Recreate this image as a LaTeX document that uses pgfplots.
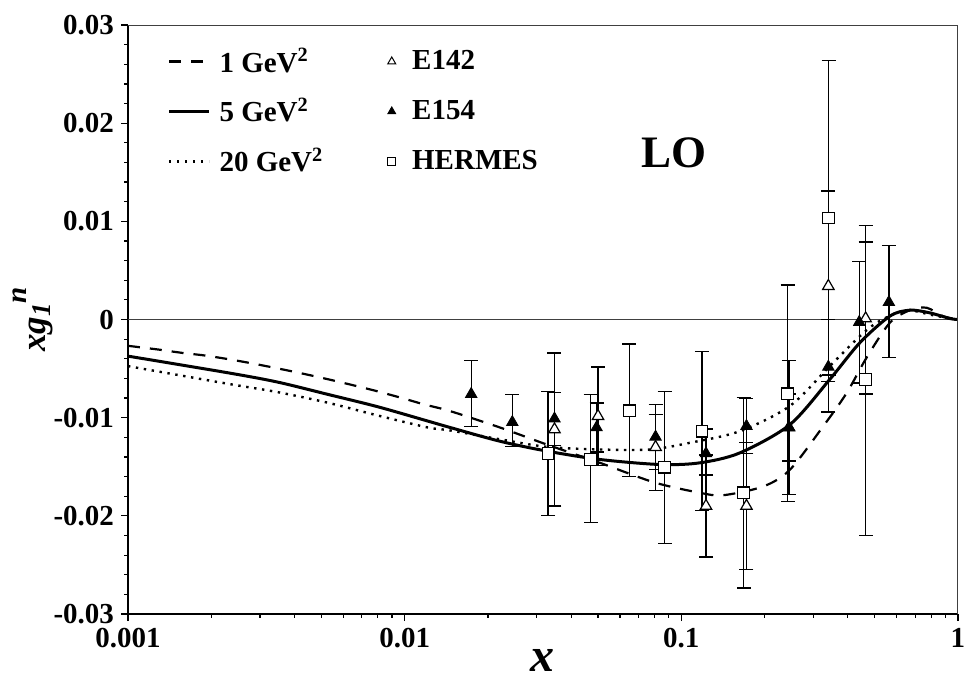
\documentclass[border=0pt]{standalone}
\usepackage{fontspec}
\setmainfont{Liberation Serif}
\usepackage{pgfplots}
\pgfplotsset{compat=1.18}
\usepackage{pgfplotstable}
\pgfplotsset{
  mylegline/.style={legend image code/.code={\draw[##1] (0pt,0pt) -- (20pt,0pt); \path (22.5pt,0pt);}},
  mylegmark/.style={legend image code/.code={\draw[##1] plot coordinates {(8.5pt,0pt)}; \path (0pt,0pt) (16.5pt,0pt);}},
}

\pgfplotstableread{
x y ep em
0.0348 -0.0112 0.0078 0.0078
0.0500 -0.00985 0.0050 0.0050
0.0807 -0.0130 0.0033 0.0044
0.1228 -0.0190 0.0052 0.0052
0.1720 -0.0190 0.0065 0.0065
0.2450 -0.0110 0.0068 0.0068
0.3400 0.0034 0.0097 0.0097
0.4637 0.0001 0.0095 0.0077
}\Ea

\pgfplotstableread{
x y ep em
0.0174 -0.0076 0.0034 0.0033
0.0245 -0.01046 0.0028 0.0025
0.0348 -0.0101 0.0027 0.0027
0.0494 -0.0110 0.0025 0.0025
0.0807 -0.01195 0.0033 0.0033
0.1228 -0.01365 0.0025 0.0022
0.1720 -0.01086 0.0028 0.0028
0.2450 -0.0110 0.0034 0.0034
0.3400 -0.00482 0.0048 0.0046
0.4395 -0.00027 0.0062 0.0062
0.5627 0.00176 0.0058 0.0056
}\Eb

\pgfplotstableread{
x y ep em
0.0330 -0.01365 0.0063 0.0063
0.0470 -0.01426 0.0066 0.0064
0.0649 -0.0093 0.0068 0.0067
0.0870 -0.01504 0.0077 0.0078
0.1187 -0.01137 0.0081 0.0081
0.1680 -0.01765 0.0097 0.0097
0.2420 -0.00757 0.0111 0.0110
0.3405 0.01035 0.0160 0.0160
0.4637 -0.0061 0.0140 0.0159
}\Hm

\begin{document}
\begin{tikzpicture}
\useasboundingbox (-64pt,-42pt) rectangle (420pt,307pt);
\begin{axis}[
  at={(0,0)}, anchor=south west,
  scale only axis, width=415pt, height=294.5pt,
  xmode=log, xmin=0.001, xmax=1, ymin=-0.03, ymax=0.03,
  axis x line*=bottom, axis y line*=left,
  axis line style={line width=1pt, -},
  xtick={0.001,0.01,0.1,1}, xticklabels={0.001,0.01,0.1,1},
  ytick={-0.03,-0.02,-0.01,0,0.01,0.02,0.03},
  yticklabels={-0.03,-0.02,-0.01,0,0.01,0.02,0.03},
  scaled y ticks=false,
  minor y tick num=4,
  tick align=outside, major tick length=3.5pt, minor tick length=1.8pt,
  tick style={line width=0.6pt, black},
  ticklabel style={font=\fontsize{14.5}{14.5}\selectfont\bfseries},
  xlabel={\fontsize{24}{24}\selectfont\bfseries\itshape x},
  xlabel style={at={(axis description cs:0.5,0)}, anchor=center, yshift=-23pt},
  ylabel={\fontsize{17.5}{17.5}\selectfont\bfseries\itshape xg\raisebox{-0.3ex}{\fontsize{13.5}{13.5}\selectfont 1}\raisebox{1.2ex}{\fontsize{14.5}{14.5}\selectfont n}},
  ylabel style={at={(axis description cs:-0.1145,0.5)}, anchor=center},
  legend columns=2,
  legend cell align=left,
  legend style={draw=none, fill=none, at={(0.04,0.975)}, anchor=north west,
    font=\fontsize{14.5}{14.5}\selectfont\bfseries, row sep=7.5pt,
    /tikz/every even column/.append style={column sep=23.5pt}},
  error bars/error bar style={line width=0.65pt, black},
  error bars/error mark options={rotate=90, mark size=3.5pt, line width=0.65pt, black},
]
\addlegendimage{mylegline, black, line width=1.1pt, dash pattern=on 6pt off 5pt}
\addlegendentry{1 GeV\textsuperscript{2}}
\addlegendimage{mylegmark, black, mark=triangle*, mark size=2.3pt, mark options={fill=white, draw=black, line width=0.5pt}}
\addlegendentry{E142}
\addlegendimage{mylegline, black, line width=1.5pt}
\addlegendentry{5 GeV\textsuperscript{2}}
\addlegendimage{mylegmark, black, mark=triangle*, mark size=2.3pt, mark options={fill=black, draw=black}}
\addlegendentry{E154}
\addlegendimage{mylegline, black, line width=1.2pt, dash pattern=on 1.2pt off 2.8pt}
\addlegendentry{20 GeV\textsuperscript{2}}
\addlegendimage{mylegmark, black, mark=square*, mark size=2pt, mark options={fill=white, draw=black, line width=0.5pt}}
\addlegendentry{HERMES}

% zero line
\addplot[forget plot, line width=0.5pt, black!75] coordinates {(0.001,0) (1,0)};

% 1 GeV^2
\addplot[forget plot, smooth, black, line width=1.1pt, dash pattern=on 6pt off 5pt] coordinates {
(0.001,-0.00268) (0.00128,-0.00305) (0.00157,-0.0034) (0.0019,-0.00367) (0.00234,-0.00407)
(0.00287,-0.00452) (0.00353,-0.00502) (0.00431,-0.00553) (0.00531,-0.0061) (0.0065,-0.00669)
(0.00794,-0.0073) (0.00978,-0.0080) (0.0118,-0.00866) (0.0146,-0.00933) (0.0221,-0.0110)
(0.0326,-0.01273) (0.0508,-0.0146) (0.0800,-0.0166) (0.1167,-0.01765) (0.1416,-0.0179)
(0.198,-0.0170) (0.247,-0.0153) (0.326,-0.01086) (0.3957,-0.0075)
(0.467,-0.0039) (0.567,-0.00034) (0.67,0.00095) (0.77,0.0012) (0.883,0.00034) (1.0,0.0)};

% 5 GeV^2
\addplot[forget plot, smooth, black, line width=1.5pt] coordinates {
(0.001,-0.00373) (0.0023,-0.00543) (0.00348,-0.00638) (0.0053,-0.00764) (0.0080,-0.00889)
(0.01214,-0.01035) (0.0146,-0.0110) (0.0221,-0.0124)
(0.0326,-0.0134) (0.0508,-0.01426) (0.0837,-0.01477) (0.1167,-0.0146)
(0.163,-0.01358) (0.247,-0.0107) (0.344,-0.0061) (0.4418,-0.00237)
(0.567,0.00034) (0.67,0.00095) (0.79,0.00068) (0.935,0.0001) (1.0,0.0)};

% 20 GeV^2
\addplot[forget plot, smooth, black, line width=1.2pt, dash pattern=on 1.2pt off 2.8pt] coordinates {
(0.001,-0.00475) (0.0023,-0.00655) (0.00348,-0.0074) (0.0053,-0.00849) (0.0080,-0.00978)
(0.01214,-0.0110) (0.0146,-0.0113) (0.0221,-0.0122)
(0.0326,-0.01297) (0.0508,-0.01324) (0.077,-0.01324) (0.1074,-0.01256)
(0.163,-0.01137) (0.247,-0.0088) (0.344,-0.00475) (0.4418,-0.0017)
(0.5076,-0.00034) (0.60,0.00068) (0.67,0.00095) (0.79,0.00051) (0.935,0.0001) (1.0,0.0)};

% HERMES
\addplot[forget plot, only marks, mark=square*, mark size=2.9pt, mark options={fill=white, draw=black, line width=0.6pt},
  error bars/.cd, y dir=both, y explicit]
  table[x=x, y=y, y error plus=ep, y error minus=em] {\Hm};
% E142
\addplot[forget plot, only marks, mark=triangle*, mark size=3.3pt, mark options={fill=white, draw=black, line width=0.6pt},
  error bars/.cd, y dir=both, y explicit]
  table[x=x, y=y, y error plus=ep, y error minus=em] {\Ea};
% E154
\addplot[forget plot, only marks, mark=triangle*, mark size=3.3pt, mark options={fill=black, draw=black},
  error bars/.cd, y dir=both, y explicit]
  table[x=x, y=y, y error plus=ep, y error minus=em] {\Eb};

\node[font=\fontsize{22.5}{22.5}\selectfont\bfseries] at (axis cs:0.094,0.017) {LO};
\draw[line width=0.5pt, black!75] (rel axis cs:0,1) -- (rel axis cs:1,1) -- (rel axis cs:1,0);
\end{axis}
\end{tikzpicture}
\end{document}
